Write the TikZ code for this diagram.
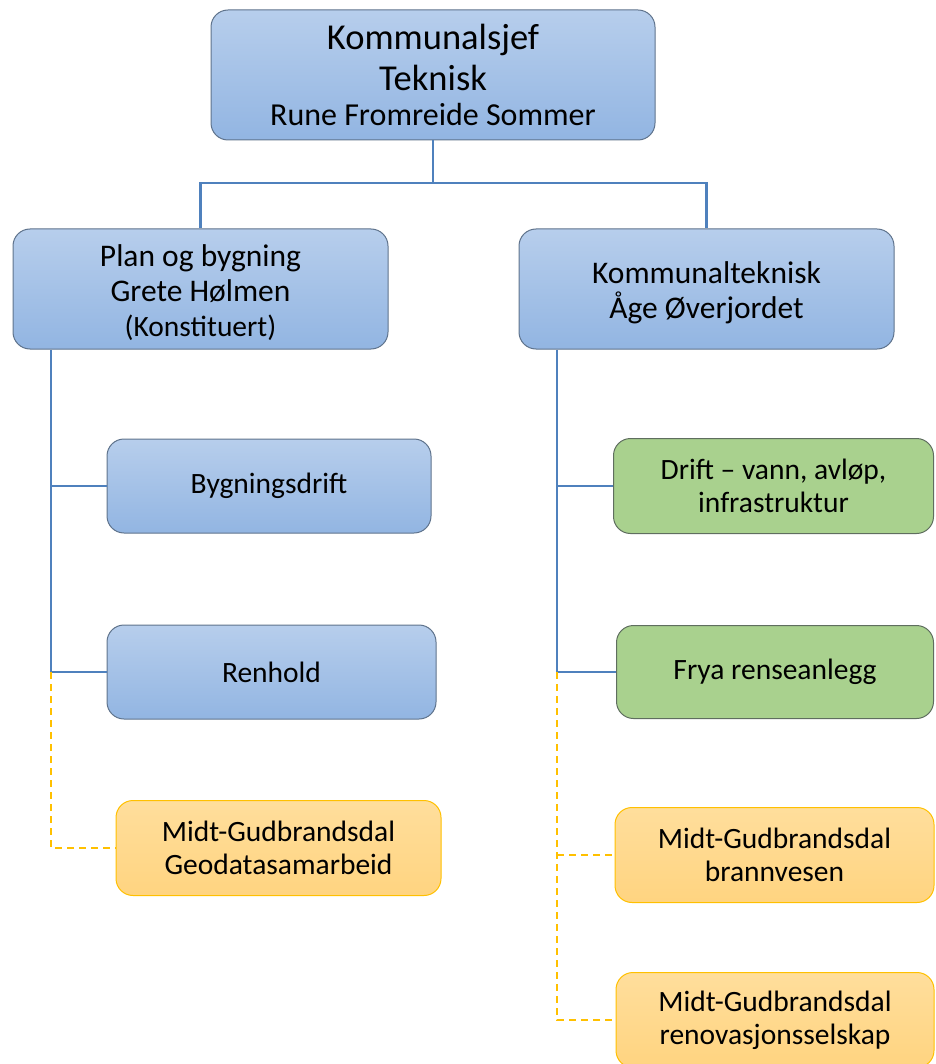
\documentclass[tikz,border=0pt]{standalone}
\usepackage{fontspec}
\setmainfont{Carlito}
\usetikzlibrary{positioning}
\definecolor{bluetop}{RGB}{183,206,236}
\definecolor{bluebot}{RGB}{146,181,226}
\definecolor{blueedge}{RGB}{95,115,140}
\definecolor{greenfill}{RGB}{169,209,142}
\definecolor{greenedge}{RGB}{95,110,95}
\definecolor{orangetop}{RGB}{255,222,156}
\definecolor{orangebot}{RGB}{255,212,128}
\definecolor{orangeedge}{RGB}{255,192,0}
\definecolor{linkblue}{RGB}{79,129,189}
\tikzset{
  box/.style={rectangle, rounded corners=17pt, inner sep=0pt, align=center, line width=1pt},
  bluebox/.style={box, draw=blueedge, top color=bluetop, bottom color=bluebot},
  greenbox/.style={box, draw=greenedge, fill=greenfill},
  orangebox/.style={box, draw=orangeedge, top color=orangetop, bottom color=orangebot},
  smalltext/.style={font=\fontsize{29.5}{33}\selectfont},
  solidlink/.style={draw=linkblue, line width=2.5pt},
  dashlink/.style={draw=orangeedge, line width=1.8pt, dash pattern=on 7pt off 5pt},
}
\begin{document}
\begin{tikzpicture}[x=1pt,y=-1pt]
\useasboundingbox (0,0) rectangle (935,1064);
% nodes
\node[bluebox, minimum width=444pt, minimum height=130pt, font=\fontsize{36.5}{41}\selectfont] (top) at (433,75)
  {Kommunalsjef\\Teknisk\\[-6pt]{\fontsize{32}{41}\selectfont Rune Fromreide Sommer}};
\node[bluebox, minimum width=375pt, minimum height=120pt, font=\fontsize{31.5}{35}\selectfont] (plan) at (200.5,289)
  {\rule{0pt}{30pt}Plan og bygning\\Grete Hølmen\\{\fontsize{29.5}{35}\selectfont (Konstituert)}};
\node[bluebox, minimum width=375pt, minimum height=120pt, font=\fontsize{31.5}{35}\selectfont] (komm) at (706.5,289)
  {\rule{0pt}{28.5pt}Kommunalteknisk\\Åge Øverjordet};
\node[bluebox, smalltext, minimum width=324pt, minimum height=94pt] (bygg) at (269,486) {Bygningsdrift};
\node[bluebox, smalltext, minimum width=329pt, minimum height=94pt] (ren) at (271.5,672) {Renhold};
\node[orangebox, smalltext, minimum width=325pt, minimum height=95pt] (geo) at (278.5,848)
  {Midt-Gudbrandsdal\\Geodatasamarbeid};
\node[greenbox, smalltext, minimum width=320pt, minimum height=95pt] (drift) at (773.5,486)
  {Drift – vann, avløp,\\infrastruktur};
\node[greenbox, smalltext, minimum width=317pt, minimum height=93pt] (frya) at (775,672) {Frya renseanlegg};
\node[orangebox, smalltext, minimum width=319pt, minimum height=95pt] (brann) at (774.5,855)
  {Midt-Gudbrandsdal\\brannvesen};
\node[orangebox, smalltext, minimum width=318pt, minimum height=95pt] (renov) at (775,1020)
  {Midt-Gudbrandsdal\\renovasjonsselskap};
% coordinates
\coordinate (hub) at (433,183);
\coordinate (lj) at (51,672);
\coordinate (rj) at (557,672);
% connectors
\draw[solidlink] (top.south) -- (hub);
\draw[solidlink] (plan.north) |- (hub) -| (komm.north);
\draw[solidlink] (plan.south -| lj) -- (lj);
\draw[solidlink] (lj |- bygg.west) -- (bygg.west);
\draw[solidlink] (lj) -- (ren.west);
\draw[dashlink] (lj) |- (geo.west);
\draw[solidlink] (komm.south -| rj) -- (rj);
\draw[solidlink] (rj |- drift.west) -- (drift.west);
\draw[solidlink] (rj) -- (frya.west);
\draw[dashlink] (rj) |- (renov.west);
\draw[dashlink] (rj |- brann.west) -- (brann.west);
\end{tikzpicture}
\end{document}
